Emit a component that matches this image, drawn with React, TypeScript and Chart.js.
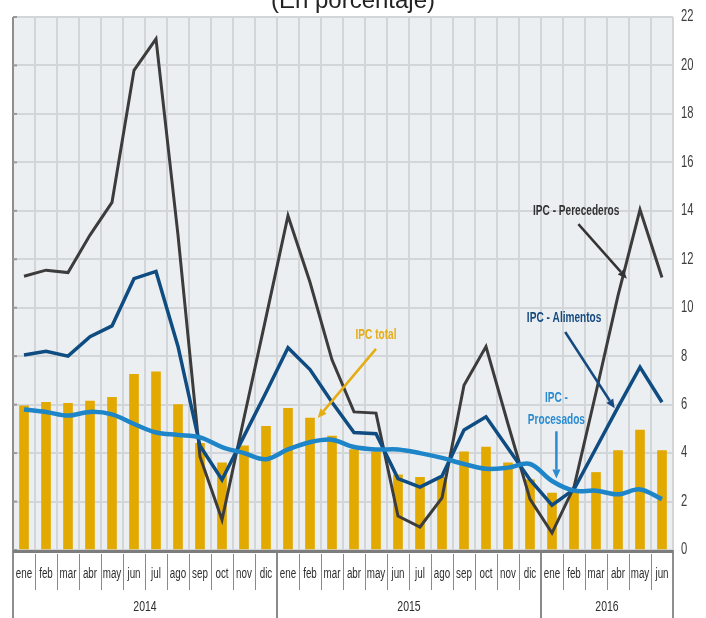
import React, { useEffect, useRef } from 'react';
import { Chart, registerables } from 'chart.js';

Chart.register(...registerables);

// ---------- data ----------
const monthLabels = [
  'ene', 'feb', 'mar', 'abr', 'may', 'jun', 'jul', 'ago', 'sep', 'oct', 'nov', 'dic',
  'ene', 'feb', 'mar', 'abr', 'may', 'jun', 'jul', 'ago', 'sep', 'oct', 'nov', 'dic',
  'ene', 'feb', 'mar', 'abr', 'may', 'jun',
];
const yearLabels = ['2014', '2015', '2016'];
const monthsPerYear = [12, 12, 6];

const ipcTotal = [
  5.95, 6.1, 6.05, 6.15, 6.3, 7.25, 7.35, 6.0, 4.4, 3.6, 4.3, 5.1,
  5.85, 5.45, 4.7, 4.15, 4.05, 3.1, 3.0, 3.0, 4.05, 4.25, 3.6, 2.9,
  2.35, 2.4, 3.2, 4.1, 4.95, 4.1,
];
const ipcProcesados = [
  5.8, 5.7, 5.55, 5.7, 5.6, 5.2, 4.85, 4.75, 4.65, 4.25, 4.0, 3.75,
  4.15, 4.45, 4.55, 4.25, 4.15, 4.15, 4.0, 3.8, 3.55, 3.35, 3.4, 3.55,
  2.85, 2.45, 2.45, 2.3, 2.5, 2.1,
];
const ipcAlimentos = [
  8.05, 8.2, 8.0, 8.8, 9.25, 11.2, 11.5, 8.4, 4.3, 2.9, 4.7, 6.5,
  8.35, 7.45, 6.1, 4.85, 4.8, 2.95, 2.6, 3.05, 4.95, 5.5, 4.2, 2.9,
  1.85, 2.5, 4.2, 5.9, 7.55, 6.1,
];
const ipcPerecederos = [
  11.3, 11.55, 11.45, 13.0, 14.35, 19.8, 21.1, 13.0, 3.85, 1.25, 5.45, 9.6,
  13.8, 11.05, 7.85, 5.7, 5.65, 1.4, 0.95, 2.15, 6.8, 8.4, 5.2, 2.1,
  0.7, 2.6, 6.5, 10.5, 14.05, 11.25,
];

const yMin = 0;
const yMax = 22;
const yStep = 2;
const titleText = '(En porcentaje)';

// ---------- styles ----------
const SANS = "'Liberation Sans', Arial, sans-serif";
const C_GOLD = '#e2a900';
const C_GRAY = '#3c3c3c';
const C_DARKBLUE = '#0f4c81';
const C_LIGHTBLUE = '#1e86c8';

// annotation anchors expressed in (category index, value) space
const annotations = [
  { lines: ['IPC - Perecederos'], color: '#333333', at: [25.1, 14.0], from: [25.2, 13.45], to: [27.4, 11.2] },
  { lines: ['IPC - Alimentos'], color: '#144a80', at: [24.55, 9.55], from: [24.6, 9.0], to: [26.85, 5.85] },
  { lines: ['IPC -', 'Procesados'], color: '#2b8bd0', at: [24.2, 6.25], from: [24.2, 4.9], to: [24.2, 2.95] },
  { lines: ['IPC total'], color: '#e6ad12', at: [16.0, 8.85], from: [16.0, 8.3], to: [13.35, 5.45] },
];

// condensed text: horizontal squeeze of a regular sans face
function fillNarrow(ctx: CanvasRenderingContext2D, text: string, x: number, y: number, sx: number) {
  ctx.save();
  ctx.translate(x, y);
  ctx.scale(sx, 1);
  ctx.fillText(text, 0, 0);
  ctx.restore();
}

function drawArrow(ctx: CanvasRenderingContext2D, x1: number, y1: number, x2: number, y2: number, color: string, width: number) {
  const ang = Math.atan2(y2 - y1, x2 - x1);
  const head = 9;
  const hw = 4;
  const bx = x2 - head * Math.cos(ang);
  const by = y2 - head * Math.sin(ang);
  ctx.save();
  ctx.strokeStyle = color;
  ctx.fillStyle = color;
  ctx.lineWidth = width;
  ctx.beginPath();
  ctx.moveTo(x1, y1);
  ctx.lineTo(bx, by);
  ctx.stroke();
  ctx.beginPath();
  ctx.moveTo(x2, y2);
  ctx.lineTo(bx + hw * Math.sin(ang), by - hw * Math.cos(ang));
  ctx.lineTo(bx - hw * Math.sin(ang), by + hw * Math.cos(ang));
  ctx.closePath();
  ctx.fill();
  ctx.restore();
}

const decorPlugin = {
  id: 'decor',
  beforeDraw(chart: any) {
    const { ctx, chartArea } = chart;
    ctx.save();
    ctx.fillStyle = '#ffffff';
    ctx.fillRect(0, 0, chart.width, chart.height);
    ctx.fillStyle = '#eceff1';
    ctx.fillRect(chartArea.left, chartArea.top, chartArea.right - chartArea.left, chartArea.bottom - chartArea.top);
    ctx.restore();
  },
  afterDatasetsDraw(chart: any) {
    const { ctx, chartArea, scales } = chart;
    const xs = scales.x;
    const ys = scales.y;
    const L = chartArea.left;
    const R = chartArea.right;
    const B = chartArea.bottom;
    const H = chart.height;

    ctx.save();
    // left border
    ctx.strokeStyle = '#8e8e8e';
    ctx.lineWidth = 2;
    ctx.beginPath();
    ctx.moveTo(L, chartArea.top);
    ctx.lineTo(L, H);
    ctx.stroke();
    // left small ticks
    ctx.strokeStyle = '#9a9a9a';
    for (let v = yMin; v <= yMax; v += yStep) {
      const y = ys.getPixelForValue(v);
      ctx.beginPath();
      ctx.moveTo(L, y);
      ctx.lineTo(L + 4, y);
      ctx.stroke();
    }
    // right boundary below axis
    ctx.strokeStyle = '#8e8e8e';
    ctx.beginPath();
    ctx.moveTo(R, B);
    ctx.lineTo(R, H);
    ctx.stroke();

    // bottom axis
    ctx.strokeStyle = '#7d7d7d';
    ctx.lineWidth = 3;
    ctx.beginPath();
    ctx.moveTo(L, B + 1.5);
    ctx.lineTo(R, B + 1.5);
    ctx.stroke();

    // right-hand value labels (condensed)
    ctx.fillStyle = '#3d3d3d';
    ctx.font = `16px ${SANS}`;
    ctx.textAlign = 'left';
    ctx.textBaseline = 'middle';
    for (let v = yMin; v <= yMax; v += yStep) {
      fillNarrow(ctx, String(v), R + 8, ys.getPixelForValue(v), 0.7);
    }

    // month labels and separators
    const n = monthLabels.length;
    const half = (xs.getPixelForValue(1) - xs.getPixelForValue(0)) / 2;
    ctx.fillStyle = '#2e2e2e';
    ctx.font = `14px ${SANS}`;
    ctx.textAlign = 'center';
    ctx.textBaseline = 'middle';
    for (let i = 0; i < n; i++) {
      const x = xs.getPixelForValue(i);
      fillNarrow(ctx, monthLabels[i], x, B + 24, 0.7);
      if (i < n - 1) {
        ctx.strokeStyle = '#8a8a8a';
        ctx.lineWidth = 1;
        ctx.beginPath();
        ctx.moveTo(Math.round(x + half) + 0.5, B + 4);
        ctx.lineTo(Math.round(x + half) + 0.5, B + 40);
        ctx.stroke();
      }
    }
    // year labels and boundaries
    let start = 0;
    ctx.font = `15px ${SANS}`;
    for (let k = 0; k < yearLabels.length; k++) {
      const end = start + monthsPerYear[k] - 1;
      const x0 = xs.getPixelForValue(start) - half;
      const x1 = xs.getPixelForValue(end) + half;
      ctx.fillStyle = '#2e2e2e';
      fillNarrow(ctx, yearLabels[k], (x0 + x1) / 2, B + 57, 0.7);
      if (k > 0) {
        ctx.strokeStyle = '#8a8a8a';
        ctx.lineWidth = 2;
        ctx.beginPath();
        ctx.moveTo(x0, B + 3);
        ctx.lineTo(x0, H);
        ctx.stroke();
      }
      start = end + 1;
    }

    // annotations
    for (const a of annotations) {
      const tx = xs.getPixelForValue(a.at[0]);
      const ty = ys.getPixelForValue(a.at[1]);
      ctx.fillStyle = a.color;
      ctx.font = `bold 14px ${SANS}`;
      ctx.textAlign = 'center';
      ctx.textBaseline = 'middle';
      a.lines.forEach((ln, j) => fillNarrow(ctx, ln, tx, ty + j * 22, 0.72));
      drawArrow(
        ctx,
        xs.getPixelForValue(a.from[0]), ys.getPixelForValue(a.from[1]),
        xs.getPixelForValue(a.to[0]), ys.getPixelForValue(a.to[1]),
        a.color, 2.5,
      );
    }

    // title (partially cut at top)
    ctx.fillStyle = '#222222';
    ctx.font = `24px ${SANS}`;
    ctx.textAlign = 'center';
    ctx.textBaseline = 'alphabetic';
    ctx.fillText(titleText, 353, 8);
    ctx.restore();
  },
};

export default function App() {
  const ref = useRef<HTMLCanvasElement | null>(null);

  useEffect(() => {
    document.body.style.margin = '0';
    const canvas = ref.current;
    if (!canvas) return;
    const chart = new Chart(canvas, {
      type: 'bar',
      data: {
        labels: monthLabels,
        datasets: [
          {
            type: 'line',
            label: 'IPC - Procesados',
            data: ipcProcesados,
            borderColor: C_LIGHTBLUE,
            borderWidth: 4.5,
            pointRadius: 0,
            tension: 0.35,
            fill: false,
            order: 1,
          },
          {
            type: 'line',
            label: 'IPC - Alimentos',
            data: ipcAlimentos,
            borderColor: C_DARKBLUE,
            borderWidth: 3.5,
            pointRadius: 0,
            tension: 0,
            fill: false,
            order: 2,
          },
          {
            type: 'line',
            label: 'IPC - Perecederos',
            data: ipcPerecederos,
            borderColor: C_GRAY,
            borderWidth: 3,
            pointRadius: 0,
            tension: 0,
            fill: false,
            order: 3,
          },
          {
            type: 'bar',
            label: 'IPC total',
            data: ipcTotal,
            backgroundColor: C_GOLD,
            barThickness: 9,
            order: 4,
          },
        ],
      } as any,
      options: {
        animation: false,
        responsive: false,
        maintainAspectRatio: false,
        layout: { padding: { left: 13, top: 17, right: 0, bottom: 0 } },
        plugins: {
          legend: { display: false },
          tooltip: { enabled: false },
          title: { display: false },
        },
        scales: {
          x: {
            type: 'category',
            offset: true,
            grid: { offset: true, color: '#d3d6d8', lineWidth: 2, drawTicks: false },
            border: { display: false },
            ticks: { display: false },
            afterFit: (s: any) => { s.height = 68; },
          },
          y: {
            position: 'right',
            min: yMin,
            max: yMax,
            ticks: { stepSize: yStep, display: false },
            grid: { color: '#d3d6d8', lineWidth: 2, drawTicks: false },
            border: { display: false },
            afterFit: (s: any) => { s.width = 33; },
          },
        },
      } as any,
      plugins: [decorPlugin],
    });
    return () => chart.destroy();
  }, []);

  return <canvas ref={ref} width={706} height={618} style={{ display: 'block' }} />;
}
